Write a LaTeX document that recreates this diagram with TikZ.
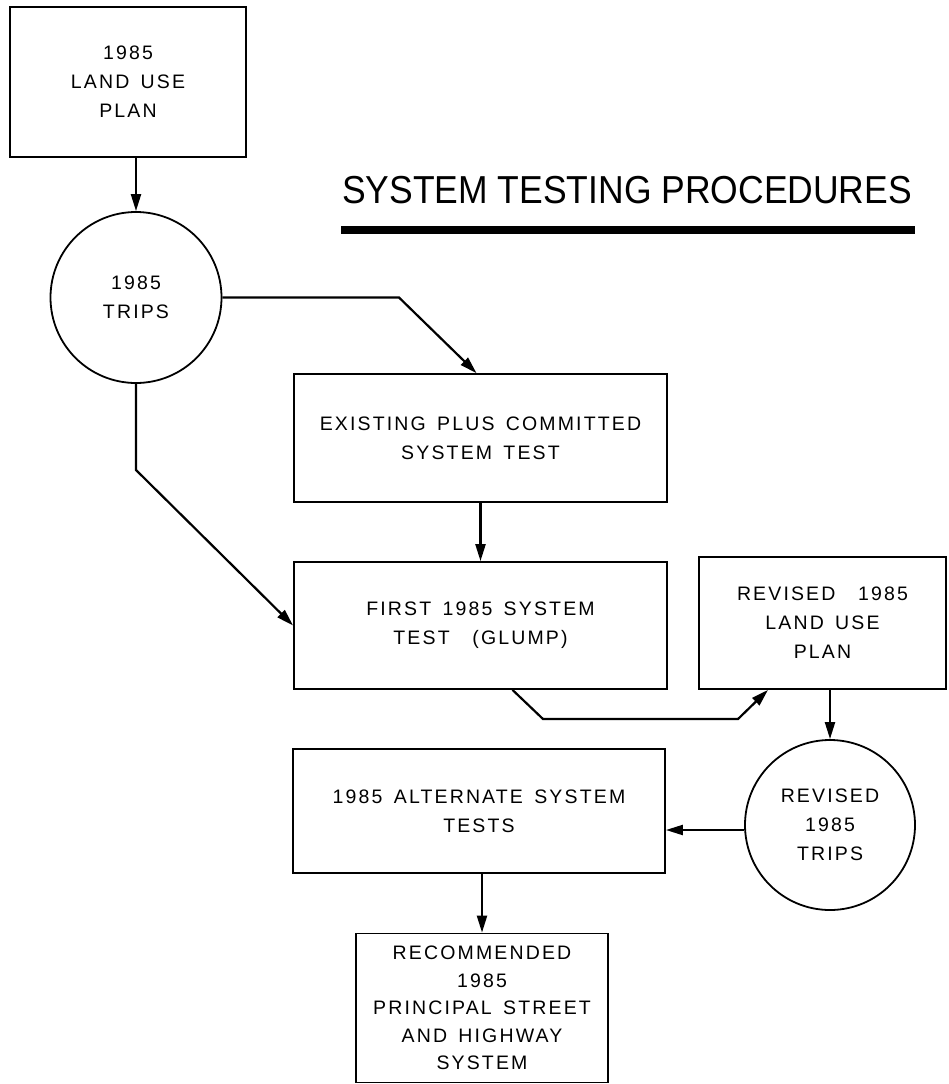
\documentclass[tikz,border=0pt]{standalone}
\usepackage{fontspec}
\usepackage{graphicx}
\usetikzlibrary{arrows.meta,calc}
\newfontfamily\letterfont[LetterSpace=11,WordSpace=1.5]{Liberation Sans}
\newfontfamily\titlefont{Liberation Sans}
\begin{document}
\begin{tikzpicture}[x=1pt,y=-1pt,
  boxnode/.style={draw, line width=1.8pt, rectangle, inner sep=0pt, align=center,
    font=\letterfont\fontsize{19.5}{29}\selectfont},
  circnode/.style={draw, line width=1.8pt, circle, inner sep=0pt, align=center,
    font=\letterfont\fontsize{19.5}{29}\selectfont},
  arr/.style={line width=2.2pt, -{Triangle[length=17pt,width=10pt]}}]
\useasboundingbox[fill=white] (0,0) rectangle (948,1084);

% title
\node[anchor=base, inner sep=0pt, font=\titlefont\fontsize{39}{39}\selectfont] (title) at (627,203)
  {\scalebox{0.91}[1]{SYSTEM TESTING PROCEDURES}};
\draw[line width=8pt] (341,230) -- (915,230);

% nodes
\node[boxnode, minimum width=236pt, minimum height=150pt] (lup) at (128,82) {1985\\LAND USE\\PLAN};
\node[circnode, minimum size=171pt] (trips) at (136,297.5) {1985\\TRIPS};
\node[boxnode, minimum width=373pt, minimum height=128pt] (ex) at (480.5,438) {EXISTING PLUS COMMITTED\\SYSTEM TEST};
\node[boxnode, minimum width=373pt, minimum height=127pt] (fi) at (480.5,625.5) {FIRST 1985 SYSTEM\\TEST\ \ (GLUMP)};
\node[boxnode, minimum width=247pt, minimum height=132pt] (rlup) at (822.5,623) {REVISED\ \ 1985\\LAND USE\\PLAN};
\node[circnode, minimum size=170pt] (rtrips) at (830,825) {REVISED\\1985\\TRIPS};
\node[boxnode, minimum width=372pt, minimum height=124pt] (alt) at (479,811) {1985 ALTERNATE SYSTEM\\TESTS};
\node[boxnode, minimum width=252pt, minimum height=149pt, font=\letterfont\fontsize{19.5}{27.5}\selectfont] (rec) at (482,1008) {RECOMMENDED\\1985\\PRINCIPAL STREET\\AND HIGHWAY\\SYSTEM};

% connector corners
\coordinate (c1) at (399,297.5);
\coordinate (c2) at (136,470);
\coordinate (c3) at (543,719);
\coordinate (c4) at (738,719);

% connectors
\draw[arr] (trips.north |- lup.south) -- (trips.north);
\draw[arr] (trips.east) -- (c1) -- ([xshift=-4pt]ex.north);
\draw[arr] (trips.south) -- (c2) -- (fi.west);
\draw[arr] (ex.south) -- (fi.north);
\draw[arr] ([xshift=32pt]fi.south) -- (c3) -- (c4) -- ([xshift=-54.5pt]rlup.south);
\draw[arr] (rtrips.north |- rlup.south) -- (rtrips.north);
\draw[arr] ([yshift=-5pt]rtrips.west) -- ([yshift=-5pt]rtrips.west -| alt.east);
\draw[arr] (rec.north |- alt.south) -- (rec.north);
\end{tikzpicture}
\end{document}
